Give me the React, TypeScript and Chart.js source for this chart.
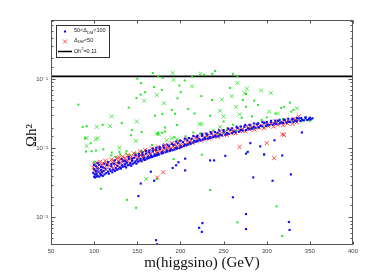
import React, { useEffect, useRef } from 'react';
import { Chart, registerables } from 'chart.js';
Chart.register(...registerables);

const xRange = [50, 400];
const yRange = [0.0004, 0.72];
const xTickStep = 50;
const refLineY = 0.11;
const xTitle = 'm(higgsino) (GeV)';
const yTitle = 'Ωh²';
const yMajorLabels: Record<string, string> = { '-3': '10⁻³', '-2': '10⁻²', '-1': '10⁻¹' };
const legendBlue = [{ t: '50<Δ' }, { t: 'DM', sub: true }, { t: '<100' }];
const legendRed = [{ t: 'Δ' }, { t: 'DM', sub: true }, { t: '<50' }];
const legendLine = [{ t: 'Ωh' }, { t: '2', sup: true }, { t: '=0.11' }];

const blueBand: [number, number][] = [
  [99,0.0044],[100,0.0039],[100,0.0050],[101,0.0042],[101,0.0038],[102,0.0047],[102,0.0055],[103,0.0039],[103,0.0043],[104,0.0051],[104,0.0040],[105,0.0046],[106,0.0039],[106,0.0058],[107,0.0043],[108,0.0049],[108,0.0041],[109,0.0045],[110,0.0040],[110,0.0053],
  [111,0.0047],[112,0.0042],[113,0.0051],[114,0.0044],[115,0.0057],[116,0.0046],[117,0.0043],[118,0.0050],[119,0.0047],[120,0.0055],[121,0.0045],[122,0.0049],[123,0.0060],[124,0.0047],[125,0.0052],[126,0.0049],[127,0.0056],[128,0.0050],[129,0.0062],[130,0.0053],
  [131,0.0051],[132,0.0057],[133,0.0054],[134,0.0065],[135,0.0055],[136,0.0059],[137,0.0053],[138,0.0062],[139,0.0057],[140,0.0070],[141,0.0058],[142,0.0061],[143,0.0056],[144,0.0066],[145,0.0060],[146,0.0073],[147,0.0062],[148,0.0065],[149,0.0060],[150,0.0069],
  [151,0.0064],[152,0.0077],[153,0.0067],[154,0.0071],[155,0.0065],[156,0.0080],[157,0.0069],[158,0.0073],[159,0.0068],[160,0.0084],[161,0.0071],[162,0.0076],[163,0.0072],[164,0.0087],[165,0.0074],[166,0.0079],[167,0.0075],[168,0.0091],[169,0.0077],[170,0.0082],[171,0.0078],[172,0.0095],[173,0.0080],[174,0.0085],[175,0.0081],[176,0.0098],
  [178,0.0084],[179,0.0089],[180,0.0086],[181,0.0102],[183,0.0088],[184,0.0093],[185,0.0090],[187,0.0107],[188,0.0092],[189,0.0097],[191,0.0094],[192,0.0112],[193,0.0096],[195,0.0102],[196,0.0099],[197,0.0118],[199,0.0101],[200,0.0107],[201,0.0104],[203,0.0124],
  [204,0.0108],[205,0.0114],[207,0.0111],[208,0.0130],[209,0.0114],[211,0.0121],[212,0.0117],[213,0.0138],[215,0.0121],[216,0.0129],[218,0.0125],[219,0.0146],[220,0.0128],[222,0.0136],[223,0.0131],[225,0.0152],[226,0.0134],[228,0.0142],[229,0.0137],[231,0.0158],[232,0.0139],[234,0.0147],[235,0.0142],[236,0.0163],
  [238,0.0145],[240,0.0152],[241,0.0148],[243,0.0168],[244,0.0150],[246,0.0158],[248,0.0154],[250,0.0175],[252,0.0158],[254,0.0167],[256,0.0162],[258,0.0185],[260,0.0166],[262,0.0176],[264,0.0171],[266,0.0196],[268,0.0175],[270,0.0186],[272,0.0181],[274,0.0206],[276,0.0184],[278,0.0195],[280,0.0190],[281,0.0216],
  [283,0.0193],[285,0.0204],[287,0.0199],[289,0.0224],[291,0.0202],[293,0.0213],[295,0.0208],[297,0.0232],[299,0.0211],[301,0.0222],[303,0.0217],[305,0.0242],[307,0.0220],[309,0.0230],[311,0.0226],[313,0.0250],[315,0.0228],[317,0.0238],[319,0.0233],[321,0.0257],[323,0.0235],[325,0.0245],[327,0.0240],[329,0.0263],[331,0.0242],[333,0.0252],[335,0.0247],[337,0.0270],[339,0.0250],[341,0.0259],[343,0.0254],[345,0.0275],[347,0.0257],[349,0.0266],[351,0.0262],[353,0.0272],
];
const blueUpper: [number, number][] = [
  [100,0.0058],[104,0.0061],[108,0.0054],[112,0.0060],[116,0.0063],[120,0.0059],[124,0.0067],[128,0.0062],[132,0.0070],[136,0.0066],[140,0.0075],[144,0.0071],[148,0.0080],[152,0.0083],[156,0.0087],[160,0.0092],[164,0.0093],[168,0.0099],[172,0.0102],[176,0.0104],[180,0.0110],[185,0.0113],[190,0.0116],[195,0.0126],[200,0.0129],[205,0.0138],[210,0.0141],[215,0.0151],[220,0.0153],[225,0.0162],[230,0.0164],[235,0.0172],[240,0.0173],[245,0.0182],[250,0.0184],[255,0.0194],[260,0.0195],[265,0.0205],[270,0.0207],[275,0.0218],[280,0.0219],[285,0.0229],[290,0.0230],[295,0.0240],[300,0.0241],[305,0.0250],[310,0.0251],[315,0.0259],[320,0.0260],[325,0.0268],[330,0.0267],[335,0.0276],[340,0.0275],[345,0.0282],[350,0.0278],
];
const blueOutliers: [number, number][] = [
  [205.5,0.0071],[197.7,0.0063],[195,0.0057],[191,0.0052],[205.5,0.0048],[234.5,0.0067],[239,0.0067],[252,0.0078],[276,0.0084],[169.5,0.0034],[260.8,0.00196],[276,0.00112],[276,0.00068],[225.5,0.00083],[221.7,0.00071],[224.8,0.00062],[171.8,0.00047],[173,0.00041],[292.5,0.0107],[278,0.0089],[297,0.0082],[318,0.0079],[284.4,0.0038],[306.8,0.0034],[328,0.0042],[325.7,0.00086],[326.5,0.00066],[154,0.0031],[151.3,0.00204],[340.8,0.017],[281,0.0119],[309,0.0131],[165.7,0.0046],
];
const redBand: [number, number][] = [
  [99,0.0053],[100,0.0058],[101,0.0048],[103,0.0062],[104,0.0055],[106,0.0051],[107,0.0064],[109,0.0057],[110,0.0061],[112,0.0053],[113,0.0066],[115,0.0059],[117,0.0063],[118,0.0056],[120,0.0069],[121,0.0062],[123,0.0066],[125,0.0059],[126,0.0072],[128,0.0065],[130,0.0069],[131,0.0062],[133,0.0076],[134,0.0068],[136,0.0072],[138,0.0065],[139,0.0080],[141,0.0071],[143,0.0076],[144,0.0069],[146,0.0085],[148,0.0075],[149,0.0081],[151,0.0074],[153,0.0090],[154,0.0080],[156,0.0086],[158,0.0078],[159,0.0095],[161,0.0085],[163,0.0091],[165,0.0083],[167,0.0100],[168,0.0089],[170,0.0096],[172,0.0088],[174,0.0106],[176,0.0095],[178,0.0101],[180,0.0093],[182,0.0112],[184,0.0101],[186,0.0108],[188,0.0099],[190,0.0119],[192,0.0107],[194,0.0115],[196,0.0105],[198,0.0127],[200,0.0114],
  [203,0.0123],[205,0.0112],[207,0.0136],[210,0.0122],[212,0.0132],[214,0.0120],[217,0.0147],[219,0.0132],[221,0.0142],[224,0.0130],[226,0.0158],[228,0.0142],[231,0.0152],[233,0.0139],[236,0.0168],[238,0.0150],[241,0.0161],[243,0.0147],[246,0.0177],[248,0.0158],[251,0.0170],[254,0.0156],[256,0.0187],[259,0.0167],[261,0.0180],[264,0.0165],[267,0.0199],[269,0.0178],[272,0.0191],[275,0.0176],[277,0.0212],[280,0.0189],[283,0.0203],[286,0.0186],[288,0.0224],[291,0.0199],[294,0.0214],[297,0.0196],[299,0.0236],[302,0.0210],[305,0.0226],[308,0.0206],[310,0.0247],[313,0.0220],[316,0.0236],[319,0.0216],[321,0.0258],[324,0.0229],[327,0.0246],[330,0.0226],[332,0.0268],[335,0.0240],[337,0.0290],
];
const redLower: [number, number][] = [
  [102,0.0045],[108,0.0046],[114,0.0049],[122,0.0052],[127,0.0055],[135,0.0059],[142,0.0061],[150,0.0068],[157,0.0072],[164,0.0077],[171,0.0082],[177,0.0088],[185,0.0095],[193,0.0101],[201,0.0108],[209,0.0116],[218,0.0126],[227,0.0135],[235,0.0143],[244,0.0152],[253,0.0162],[262,0.0172],[271,0.0182],[280,0.0192],[290,0.0205],[300,0.0216],[311,0.0228],[322,0.0240],[333,0.0252],
];
const redOutliers: [number, number][] = [
  [180,0.0045],[173,0.0038],[268.5,0.0105],[308.7,0.0072],[300,0.0119],[318,0.0159],[320,0.0157],[129,0.0074],
];
const greenDots: [number, number][] = [
  [81.7,0.043],[168,0.123],[150,0.102],[154.4,0.088],[159,0.065],[154,0.060],[149,0.0535],[140,0.039],[132,0.0232],[110,0.0219],[143.6,0.0184],[86.7,0.0205],[91.3,0.021],[155,0.0172],[89.4,0.014],[90.6,0.009],[96,0.0119],[97,0.0091],[102,0.0093],[110.6,0.0097],[120.4,0.0087],[129.2,0.0089],[142.8,0.0155],[137.6,0.0091],[173.4,0.016],
  [174,0.110],[179.5,0.105],[205,0.096],[213.4,0.110],[227.5,0.116],[237,0.120],[240,0.132],[260.8,0.120],[266,0.110],[257.6,0.075],[276,0.061],[169.5,0.077],[178.4,0.070],[198.8,0.081],[200.4,0.065],[224.2,0.057],[236.6,0.050],[196.6,0.053],[190,0.036],[209,0.037],[272.3,0.050],[170.5,0.0297],[179,0.0316],[193.7,0.0316],[216.5,0.032],[234.5,0.0297],[271,0.0275],[250,0.0245],[195.8,0.0218],[182,0.020],[174,0.0168],[179,0.0168],[182,0.0175],[193,0.0145],[215,0.017],[224.8,0.0158],[206,0.015],[253.8,0.0184],
  [285.5,0.049],[276,0.040],[316.8,0.0385],[328.4,0.034],[294,0.0257],[297,0.0198],[300,0.028],[290,0.0425],[310,0.032],[320,0.040],[327,0.046],[331,0.036],[283,0.029],
  [108,0.0026],[138,0.0018],[148.6,0.00138],[173,0.0036],[234.5,0.0025],[266,0.00085],[311.4,0.00145],[318,0.00054],[224.8,0.0081],[297,0.0080],
  [163,0.0075],[172.6,0.0083],[184,0.0099],[199,0.0131],[207,0.0138],[222.7,0.0164],[238,0.0183],[261,0.0220],[300,0.0210],[319,0.0265],[338,0.0270],[350,0.0250],[120,0.0079],[125,0.0075],[130,0.0082],[137,0.0084],[142,0.0080],[148,0.0086],[155,0.0092],[157,0.0079],[167,0.0112],[170,0.0094],[192,0.0070],[210,0.0118],[230,0.0150],[245,0.0160],[255,0.0165],[270,0.0185],[285,0.0190],[290,0.0200],[310,0.0235],[330,0.0252],[340,0.0245],[345,0.0262],[104,0.0062],[100,0.0063],[102,0.0041],
  [335,0.0262],[342,0.0255],[348,0.0258],[352,0.0266],[325,0.0243],[315,0.0236],[305,0.0225],[280,0.0200],[265,0.0180],[250,0.0168],
];
const greenCrosses: [number, number][] = [
  [158,0.049],[120.4,0.029],[118.4,0.021],[149.4,0.0245],[103,0.0205],[104,0.014],[102,0.0135],[91.3,0.0108],[129.2,0.0102],
  [191,0.123],[192,0.098],[223,0.120],[266,0.089],[277,0.073],[172.6,0.059],[213.4,0.079],[248,0.051],[259.5,0.057],[274.3,0.063],[181,0.045],[264.6,0.040],[246,0.035],[250,0.029],[268.5,0.031],[222,0.0224],[224.5,0.0224],[246,0.0205],[172.6,0.0164],[190,0.014],[195.8,0.0135],
  [293.6,0.0687],[305,0.063],[303,0.034],[335,0.038],[313,0.032],[160.2,0.0036],[148.3,0.0128],[175,0.016],[184,0.0131],[91,0.0141],
];

const toXY = (arr: [number, number][]) => arr.map(([x, y]) => ({ x, y }));
const isPow10 = (v: number) => Math.abs(Math.log10(v) - Math.round(Math.log10(v))) < 1e-6;

type Part = { t: string; sub?: boolean; sup?: boolean };
function drawParts(ctx: CanvasRenderingContext2D, x: number, y: number, parts: Part[]) {
  let cx = x;
  for (const p of parts) {
    const size = p.sub || p.sup ? 4 : 5.5;
    ctx.font = `${size}px "Liberation Sans", Arial, sans-serif`;
    const dy = p.sub ? 2 : p.sup ? -2.5 : 0;
    ctx.fillText(p.t, cx, y + dy);
    cx += ctx.measureText(p.t).width;
  }
}

const framePlugin = {
  id: 'frame',
  afterDatasetsDraw(chart: any) {
    const { ctx, chartArea: a, scales } = chart;
    ctx.save();
    ctx.strokeStyle = '#555';
    ctx.lineWidth = 1;
    const L = Math.round(a.left) + 0.5, R = Math.round(a.right) - 0.5;
    const T = Math.round(a.top) + 0.5, B = Math.round(a.bottom) - 0.5;
    ctx.strokeRect(L, T, R - L, B - T);
    ctx.beginPath();
    for (const t of scales.x.ticks) {
      const px = Math.round(scales.x.getPixelForValue(t.value)) + 0.5;
      ctx.moveTo(px, B); ctx.lineTo(px, B - 3);
      ctx.moveTo(px, T); ctx.lineTo(px, T + 3);
    }
    for (const t of scales.y.ticks) {
      const py = Math.round(scales.y.getPixelForValue(t.value)) + 0.5;
      if (py < T + 1 || py > B - 1) continue;
      const len = isPow10(t.value) ? 4 : 2;
      ctx.moveTo(L, py); ctx.lineTo(L + len, py);
      ctx.moveTo(R, py); ctx.lineTo(R - len, py);
    }
    ctx.stroke();

    // y-axis title, rotated
    ctx.save();
    ctx.translate(32, (a.top + a.bottom) / 2 + 3);
    ctx.rotate(-Math.PI / 2);
    ctx.fillStyle = '#111';
    ctx.textAlign = 'center';
    ctx.textBaseline = 'middle';
    ctx.font = '15px "Liberation Serif", "DejaVu Serif", serif';
    ctx.fillText(yTitle, 0, 0);
    ctx.restore();

    // legend
    const lx = 56, ly = 25, lw = 53, lh = 32;
    ctx.fillStyle = '#fff';
    ctx.fillRect(lx, ly, lw, lh);
    ctx.strokeStyle = '#333';
    ctx.strokeRect(lx + 0.5, ly + 0.5, lw, lh);
    ctx.fillStyle = '#0000ff';
    ctx.fillRect(64, 30.5, 2, 2);
    ctx.strokeStyle = 'rgba(255,40,40,0.8)';
    ctx.beginPath();
    ctx.moveTo(63, 39.5); ctx.lineTo(67, 43.5);
    ctx.moveTo(67, 39.5); ctx.lineTo(63, 43.5);
    ctx.stroke();
    ctx.strokeStyle = '#000';
    ctx.lineWidth = 1.5;
    ctx.beginPath();
    ctx.moveTo(58, 51.5); ctx.lineTo(72, 51.5);
    ctx.stroke();
    ctx.fillStyle = '#222';
    ctx.textBaseline = 'middle';
    ctx.textAlign = 'left';
    drawParts(ctx, 74, 30.5, legendBlue);
    drawParts(ctx, 74, 40, legendRed);
    drawParts(ctx, 74, 51.5, legendLine);
    ctx.restore();
  },
};

export default function App() {
  const ref = useRef<HTMLCanvasElement>(null);
  useEffect(() => {
    document.body.style.margin = '0';
    const tickFont = { size: 6, family: '"Liberation Sans", "DejaVu Sans", sans-serif' };
    const chart = new Chart(ref.current as HTMLCanvasElement, {
      type: 'scatter',
      data: {
        datasets: [
          {
            label: 'green x',
            data: toXY(greenCrosses),
            pointStyle: 'crossRot',
            pointRadius: 2.8,
            borderColor: 'rgba(40,225,40,0.8)',
            borderWidth: 1,
          } as any,
          {
            label: 'blue',
            data: toXY([...blueBand, ...blueUpper, ...blueOutliers]),
            pointStyle: 'rect',
            pointRadius: 1.5,
            backgroundColor: '#0a0aff',
            borderColor: '#0a0aff',
            borderWidth: 0,
          },
          {
            label: 'red',
            data: toXY([...redBand, ...redLower, ...redOutliers]),
            pointStyle: 'crossRot',
            pointRadius: 2.9,
            borderColor: 'rgba(255,35,35,0.8)',
            borderWidth: 1,
          },
          {
            label: 'green',
            data: toXY(greenDots),
            pointStyle: 'rect',
            pointRadius: 1.4,
            backgroundColor: '#22e622',
            borderColor: '#22e622',
            borderWidth: 0,
          },
          {
            type: 'line',
            label: 'ref',
            data: [{ x: xRange[0], y: refLineY }, { x: xRange[1], y: refLineY }],
            borderColor: '#000',
            borderWidth: 1.6,
            pointRadius: 0,
            showLine: true,
          } as any,
        ],
      },
      options: {
        animation: false,
        responsive: true,
        maintainAspectRatio: false,
        layout: { padding: { top: 20, right: 37, left: 0, bottom: 0 } },
        plugins: { legend: { display: false }, tooltip: { enabled: false } },
        scales: {
          x: {
            type: 'linear',
            min: xRange[0],
            max: xRange[1],
            grid: { display: false, drawTicks: false },
            border: { display: false },
            ticks: { stepSize: xTickStep, font: tickFont, color: '#444', padding: 3, maxRotation: 0 },
            title: {
              display: true,
              text: xTitle,
              font: { size: 15, family: '"Liberation Serif", "DejaVu Serif", serif' },
              color: '#111',
              padding: { top: 0, bottom: 4 },
            },
            afterFit: (s: any) => { s.height = 31; },
          },
          y: {
            type: 'logarithmic',
            min: yRange[0],
            max: yRange[1],
            grid: { display: false, drawTicks: false },
            border: { display: false },
            ticks: {
              autoSkip: false,
              font: tickFont,
              color: '#444',
              padding: 3,
              callback: (v: any) => {
                const n = Number(v);
                if (!isPow10(n)) return '';
                return yMajorLabels[String(Math.round(Math.log10(n)))] ?? '';
              },
            },
            afterFit: (s: any) => { s.width = 51; },
          },
        },
      },
      plugins: [framePlugin],
    });
    return () => chart.destroy();
  }, []);
  return (
    <div style={{ width: 390, height: 276, position: 'relative' }}>
      <canvas ref={ref} />
    </div>
  );
}
